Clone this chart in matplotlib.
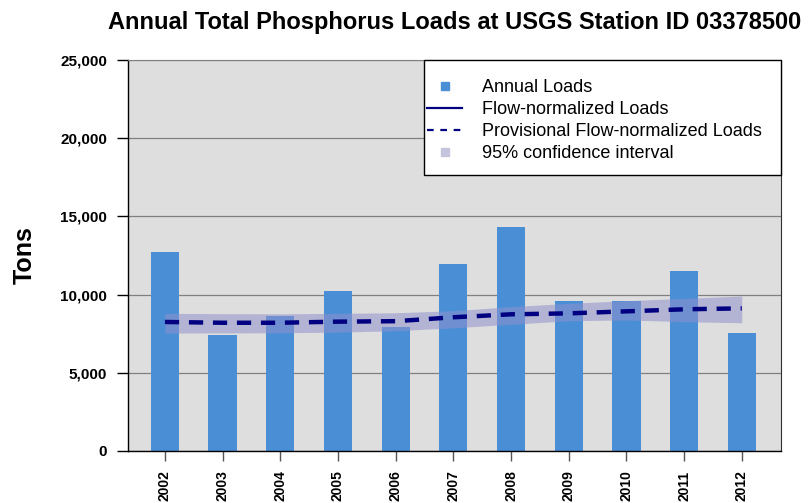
import matplotlib
matplotlib.use("Agg")
import matplotlib.pyplot as plt
from matplotlib.lines import Line2D
from matplotlib.patches import Rectangle
import numpy as np

plt.rcParams['font.family'] = ['Liberation Sans', 'DejaVu Sans']

years = ['2002', '2003', '2004', '2005', '2006', '2007', '2008', '2009', '2010', '2011', '2012']
annual_loads = [12700, 7400, 8600, 10200, 7900, 11950, 14300, 9600, 9600, 11500, 7550]
flow_norm = [8250, 8200, 8200, 8270, 8300, 8550, 8740, 8800, 8930, 9060, 9120]
ci_upper = [8800, 8780, 8770, 8800, 8840, 8970, 9230, 9440, 9610, 9760, 9910]
ci_lower = [7540, 7550, 7560, 7600, 7690, 7880, 8100, 8330, 8380, 8270, 8200]
yticks = [0, 5000, 10000, 15000, 20000, 25000]

fig = plt.figure(figsize=(8.09, 5.03), dpi=100)
ax = fig.add_axes([128/809, 1-451/503, (781-128)/809, (451-60)/503])
ax.set_facecolor('#dedede')

x = np.arange(len(years))
bar_color = '#4a8fd6'
ax.bar(x, annual_loads, width=0.49, color=bar_color, zorder=2)
ax.fill_between(x, ci_lower, ci_upper, color='#9090cc', alpha=0.55, linewidth=0, zorder=3)
ax.plot(x, flow_norm, color='#000080', linewidth=3.2, dashes=(3.2, 2.2), zorder=4)

ax.set_xlim(-0.64, len(years) - 1 + 0.68)
ax.set_ylim(0, 25000)
ax.set_yticks(yticks)
ax.set_yticklabels([f'{v:,}' for v in yticks], fontweight='bold', fontsize=11)
ax.set_xticks(x)
ax.set_xticklabels(years, rotation=90, fontweight='bold', fontsize=10)
ax.yaxis.grid(True, color='#808080', linewidth=0.9, zorder=1)
ax.set_axisbelow(True)
ax.tick_params(axis='y', length=8, width=1, color='black', pad=7)
ax.tick_params(axis='x', length=7, width=1, color='#555555', pad=7)

for s in ['left', 'bottom']:
    ax.spines[s].set_color('black')
    ax.spines[s].set_linewidth(1.0)
ax.spines['top'].set_color('#808080')
ax.spines['right'].set_color('#303030')

ax.set_ylabel('Tons', fontsize=18, fontweight='bold', labelpad=17)
ax.set_title('Annual Total Phosphorus Loads at USGS Station ID 03378500',
             fontsize=17, fontweight='bold', pad=22)

# legend frame box
ax.add_patch(Rectangle(((424-128)/653, (451-175)/391), 1-(424-128)/653, 1-(451-175)/391,
                       transform=ax.transAxes, facecolor='white', edgecolor='black',
                       linewidth=1.0, zorder=5, clip_on=False))

handles = [
    Line2D([], [], linestyle='none', marker='s', markersize=6, color=bar_color),
    Line2D([], [], color='#000080', linewidth=1.6),
    Line2D([], [], color='#000080', linewidth=1.6, dashes=(3, 3)),
    Line2D([], [], linestyle='none', marker='s', markersize=6, color='#c4c4dc'),
]
labels = ['Annual Loads', 'Flow-normalized Loads', 'Provisional Flow-normalized Loads',
          '95% confidence interval']
leg = ax.legend(handles, labels, loc='upper left',
                bbox_to_anchor=((427-128)/653, 1-(79-60)/391),
                borderaxespad=0, borderpad=0, fontsize=13, frameon=False,
                handlelength=1.95, handletextpad=1.1, labelspacing=0.28)
leg.set_zorder(6)

fig.savefig('out.png', dpi=100)
